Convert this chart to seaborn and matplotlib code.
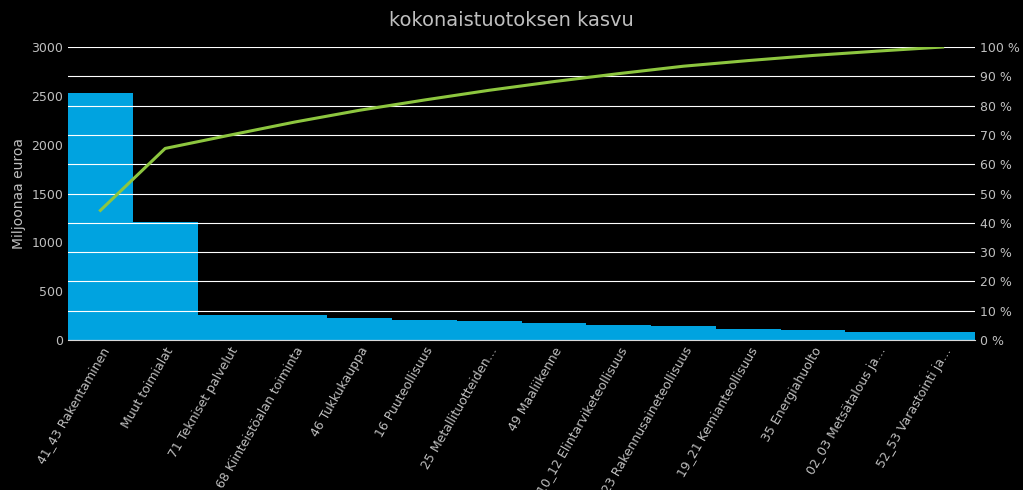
import matplotlib
matplotlib.use("Agg")
import matplotlib.pyplot as plt
import seaborn as sns
import numpy as np
import pandas as pd
from matplotlib.ticker import FuncFormatter

categories = ["41_43 Rakentaminen", "Muut toimialat", "71 Tekniset palvelut",
              "68 Kiinteistöalan toiminta", "46 Tukkukauppa", "16 Puuteollisuus",
              "25 Metallituotteiden…", "49 Maaliikenne", "10_12 Elintarviketeollisuus",
              "23 Rakennusaineteollisuus", "19_21 Kemianteollisuus", "35 Energiahuolto",
              "02_03 Metsätalous ja…", "52_53 Varastointi ja…"]
values = [2530, 1210, 260, 255, 230, 200, 190, 170, 155, 145, 110, 100, 85, 80]

df = pd.DataFrame({"cat": categories, "val": values})
cum = np.cumsum(values) / np.sum(values) * 100

bg = "#000000"
fg = "#bfbfbf"
fig = plt.figure(figsize=(10.23, 4.9), dpi=100, facecolor=bg)
ax = fig.add_axes([68/1023, 1-340/490, (975-68)/1023, (340-47)/490])
ax.set_facecolor(bg)
sns.barplot(data=df, x="cat", y="val", color="#00a3e0", width=1.0, saturation=1, ax=ax)
ax.set_xlim(-0.5, len(values)-0.5)
ax.set_ylim(0, 3000)
ax.set_yticks(range(0, 3001, 500))
ax.set_ylabel("Miljoonaa euroa", color=fg, fontsize=10)
ax.set_xlabel("")
ax.tick_params(colors=fg, labelsize=9, length=0)
ax.set_xticks(range(len(values)))
ax.set_xticklabels(categories, rotation=60, ha="right", rotation_mode="anchor", color=fg)
for s in ax.spines.values():
    s.set_visible(False)
ax.spines["bottom"].set_visible(True)
ax.spines["bottom"].set_color("#d9d9d9")

ax2 = ax.twinx()
ax2.patch.set_visible(False)
ax2.set_ylim(0, 100)
ax2.set_yticks(range(0, 101, 10))
ax2.yaxis.set_major_formatter(FuncFormatter(lambda v, p: f"{int(v)} %"))
ax2.tick_params(colors=fg, labelsize=9, length=0)
ax2.grid(True, color="#ffffff", linewidth=0.8, axis="y")
for s in ax2.spines.values():
    s.set_visible(False)
ax2.plot(range(len(values)), cum, color="#8dc63f", linewidth=2.2, zorder=5)
fig.text(0.5, 1-20/490, "kokonaistuotoksen kasvu", ha="center", va="center", color=fg, fontsize=14)
fig.savefig("out.png", facecolor=bg)
